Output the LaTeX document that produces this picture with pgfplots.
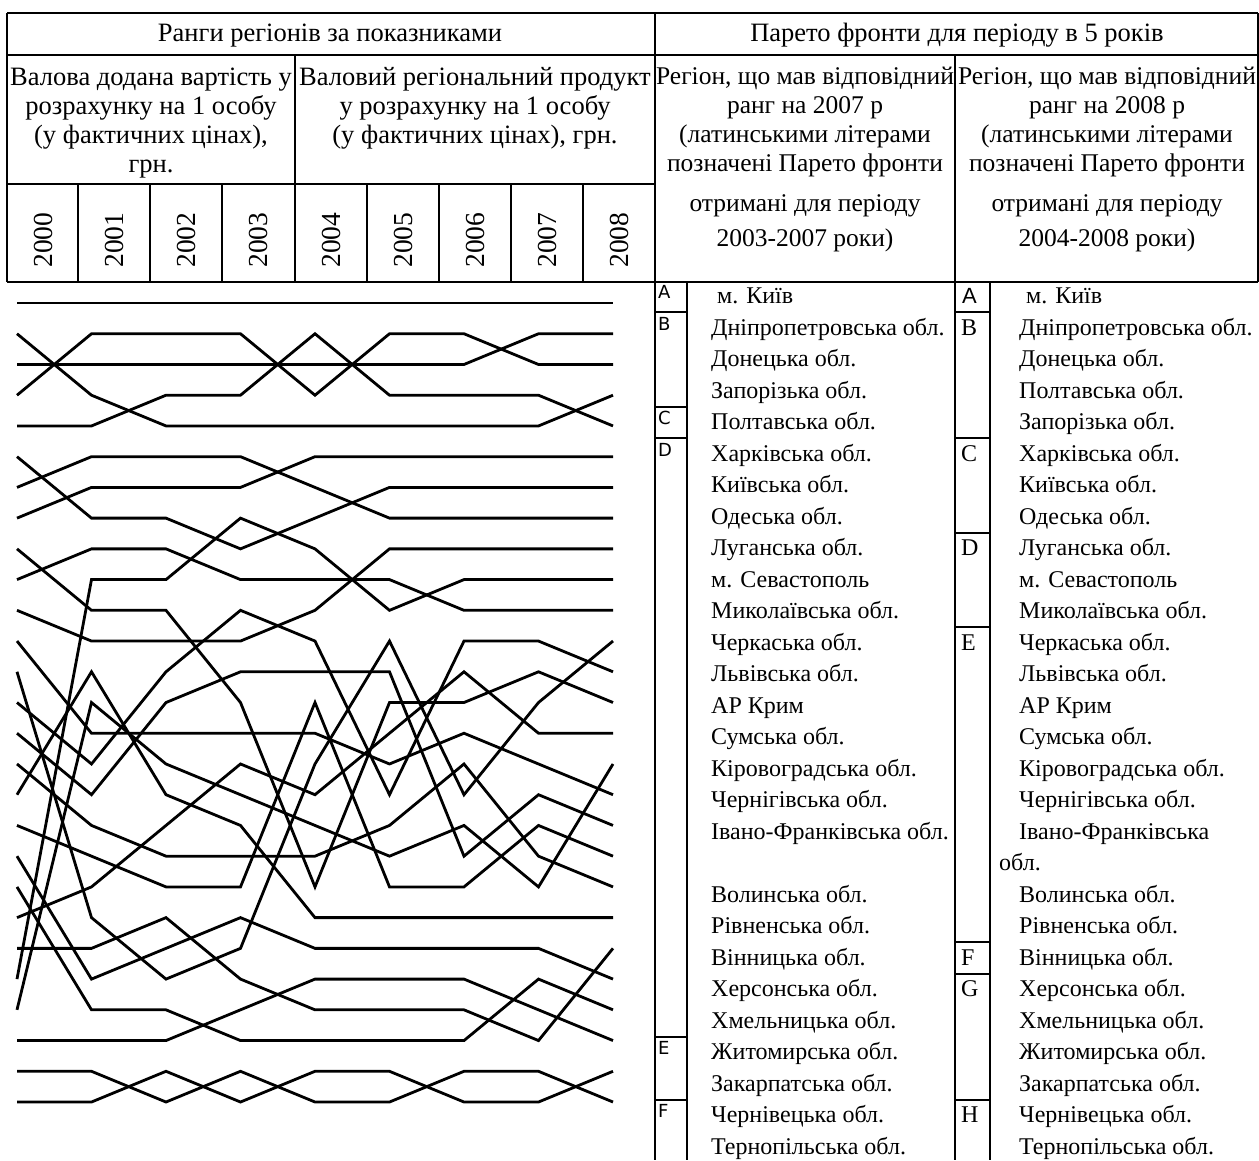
\documentclass[border=0pt]{standalone}
\usepackage{fontspec}
\setmainfont{Liberation Serif}
\newfontfamily\lsans{DejaVu Sans}
\newfontfamily\asans{Liberation Sans}
\usepackage{pgfplots}
\pgfplotsset{compat=1.18}
\begin{document}
\fontsize{24}{28}\selectfont
\begin{tikzpicture}
\useasboundingbox (0pt,0pt) rectangle (1259pt,-1160pt);
\begin{scope}[x=1pt,y=1pt,every node/.style={inner sep=0pt}]
% table rules
\begin{scope}[line width=2pt]
\draw (7,-13) -- (1258,-13);
\draw (7,-55) -- (1258,-55);
\draw (7,-184) -- (655,-184);
\draw (7,-282) -- (1258,-282);
\draw (7,-13) -- (7,-282);
\draw (1258,-13) -- (1258,-282);
\draw (295,-55) -- (295,-282);
\foreach \xx in {78,150,222,367,439,511,583} \draw (\xx,-184) -- (\xx,-282);
\draw (655,-13) -- (655,-1160);
\draw (955,-55) -- (955,-1160);
\draw (687,-282) -- (687,-1160);
\draw (990,-282) -- (990,-1160);
\foreach \yy in {312,406.5,438,1036.5,1099.5} \draw (655,-\yy) -- (687,-\yy);
\foreach \yy in {312,438,532.5,627,942,973.5,1099.5} \draw (955,-\yy) -- (990,-\yy);
\end{scope}
% header texts
\begin{scope}[every node/.append style={font=\fontsize{26.5}{30}\selectfont}]
\node[anchor=base] at (330,-41) {Ранги регіонів за показниками};
\node[anchor=base] at (957,-41) {Парето фронти для періоду в 5 років};
\node[anchor=base] at (151,-85) {Валова додана вартість у};
\node[anchor=base] at (151,-114) {розрахунку на 1 особу};
\node[anchor=base] at (151,-143) {(у фактичних цінах),};
\node[anchor=base] at (151,-172) {грн.};
\node[anchor=base] at (475,-85) {Валовий регіональний продукт};
\node[anchor=base] at (475,-114) {у розрахунку на 1 особу};
\node[anchor=base] at (475,-143) {(у фактичних цінах), грн.};
\end{scope}
\begin{scope}[every node/.append style={font=\fontsize{25.5}{30}\selectfont}]
\node[anchor=base] at (805,-84) {Регіон, що мав відповідний};
\node[anchor=base] at (805,-113) {ранг на 2007 р};
\node[anchor=base] at (805,-142) {(латинськими літерами};
\node[anchor=base] at (805,-171) {позначені Парето фронти};
\node[anchor=base] at (805,-211) {отримані для періоду};
\node[anchor=base] at (805,-246) {2003-2007 роки)};
\node[anchor=base] at (1107,-84) {Регіон, що мав відповідний};
\node[anchor=base] at (1107,-113) {ранг на 2008 р};
\node[anchor=base] at (1107,-142) {(латинськими літерами};
\node[anchor=base] at (1107,-171) {позначені Парето фронти};
\node[anchor=base] at (1107,-211) {отримані для періоду};
\node[anchor=base] at (1107,-246) {2004-2008 роки)};
\end{scope}
\foreach \yr/\xc in {2000/43,2001/114,2002/186,2003/258,2004/331,2005/403,2006/475,2007/547,2008/619}
  \node[rotate=90,font=\fontsize{27.5}{30}\selectfont] at (\xc,-240) {\yr};
% region lists
\foreach \nm [count=\i from 0] in {Дніпропетровська обл.,Донецька обл.,Запорізька обл.,Полтавська обл.,Харківська обл.,Київська обл.,Одеська обл.,Луганська обл.,м. Севастополь,Миколаївська обл.,Черкаська обл.,Львівська обл.,АР Крим,Сумська обл.,Кіровоградська обл.,Чернігівська обл.,Івано-Франківська обл.}
  \node[anchor=base west] at (711,{-(335+31.5*\i)}) {\nm};
\foreach \nm [count=\i from 0] in {Волинська обл.,Рівненська обл.,Вінницька обл.,Херсонська обл.,Хмельницька обл.,Житомирська обл.,Закарпатська обл.,Чернівецька обл.,Тернопільська обл.}
  \node[anchor=base west] at (711,{-(902+31.5*\i)}) {\nm};
\node[anchor=base west] at (717,-303.5) {м. Київ};
\foreach \nm [count=\i from 0] in {Дніпропетровська обл.,Донецька обл.,Полтавська обл.,Запорізька обл.,Харківська обл.,Київська обл.,Одеська обл.,Луганська обл.,м. Севастополь,Миколаївська обл.,Черкаська обл.,Львівська обл.,АР Крим,Сумська обл.,Кіровоградська обл.,Чернігівська обл.,Івано-Франківська}
  \node[anchor=base west] at (1019,{-(335+31.5*\i)}) {\nm};
\node[anchor=base west] at (999,-870.5) {обл.};
\foreach \nm [count=\i from 0] in {Волинська обл.,Рівненська обл.,Вінницька обл.,Херсонська обл.,Хмельницька обл.,Житомирська обл.,Закарпатська обл.,Чернівецька обл.,Тернопільська обл.}
  \node[anchor=base west] at (1019,{-(902+31.5*\i)}) {\nm};
\node[anchor=base west] at (1026,-303.5) {м. Київ};
% Pareto front letters
\foreach \lt/\r in {A/0,B/1,C/4,D/5,E/24,F/26}
  \node[anchor=base west,font=\lsans\fontsize{18}{20}\selectfont] at (658,{-(298.5+31.5*\r)}) {\lt};
\node[anchor=base west,font=\asans\fontsize{22}{24}\selectfont] at (962,-303.5) {A};
\foreach \lt/\r in {B/1,C/5,D/8,E/11,F/21,G/22,H/26}
  \node[anchor=base west] at (961,{-(303.5+31.5*\r)}) {\lt};
\end{scope}
% rank lines
\begin{axis}[at={(17pt,-1102pt)}, anchor=south west, width=596pt, height=799pt,
  scale only axis, xmin=2000, xmax=2008, ymin=1, ymax=27, y dir=reverse,
  hide axis, clip=false, rk/.style={black,solid,line width=2.8pt,mark=none}]
\addplot[rk] coordinates {(2000,1) (2001,1) (2002,1) (2003,1) (2004,1) (2005,1) (2006,1) (2007,1) (2008,1)};
\addplot[rk] coordinates {(2000,2) (2001,4) (2002,5) (2003,5) (2004,5) (2005,5) (2006,5) (2007,5) (2008,4)};
\addplot[rk] coordinates {(2000,3) (2001,3) (2002,3) (2003,3) (2004,3) (2005,3) (2006,3) (2007,2) (2008,2)};
\addplot[rk] coordinates {(2000,4) (2001,2) (2002,2) (2003,2) (2004,4) (2005,2) (2006,2) (2007,3) (2008,3)};
\addplot[rk] coordinates {(2000,5) (2001,5) (2002,4) (2003,4) (2004,2) (2005,4) (2006,4) (2007,4) (2008,5)};
\addplot[rk] coordinates {(2000,6) (2001,8) (2002,8) (2003,9) (2004,8) (2005,7) (2006,7) (2007,7) (2008,7)};
\addplot[rk] coordinates {(2000,7) (2001,6) (2002,6) (2003,6) (2004,7) (2005,8) (2006,8) (2007,8) (2008,8)};
\addplot[rk] coordinates {(2000,8) (2001,7) (2002,7) (2003,7) (2004,6) (2005,6) (2006,6) (2007,6) (2008,6)};
\addplot[rk] coordinates {(2000,9) (2001,11) (2002,11) (2003,14) (2004,20) (2005,14) (2006,14) (2007,13) (2008,14)};
\addplot[rk] coordinates {(2000,10) (2001,9) (2002,9) (2003,10) (2004,10) (2005,10) (2006,11) (2007,11) (2008,11)};
\addplot[rk] coordinates {(2000,11) (2001,12) (2002,12) (2003,12) (2004,11) (2005,9) (2006,9) (2007,9) (2008,9)};
\addplot[rk] coordinates {(2000,12) (2001,15) (2002,15) (2003,15) (2004,15) (2005,16) (2006,15) (2007,16) (2008,17)};
\addplot[rk] coordinates {(2000,13) (2001,21) (2002,23) (2003,22) (2004,16) (2005,12) (2006,17) (2007,14) (2008,12)};
\addplot[rk] coordinates {(2000,14) (2001,16) (2002,13) (2003,11) (2004,12) (2005,17) (2006,12) (2007,12) (2008,13)};
\addplot[rk] coordinates {(2000,15) (2001,17) (2002,14) (2003,13) (2004,13) (2005,13) (2006,19) (2007,17) (2008,18)};
\addplot[rk] coordinates {(2000,16) (2001,18) (2002,19) (2003,19) (2004,19) (2005,18) (2006,16) (2007,19) (2008,20)};
\addplot[rk] coordinates {(2000,17) (2001,13) (2002,17) (2003,18) (2004,21) (2005,21) (2006,21) (2007,21) (2008,21)};
\addplot[rk] coordinates {(2000,18) (2001,19) (2002,20) (2003,20) (2004,14) (2005,20) (2006,20) (2007,18) (2008,19)};
\addplot[rk] coordinates {(2000,19) (2001,23) (2002,22) (2003,21) (2004,22) (2005,22) (2006,22) (2007,22) (2008,23)};
\addplot[rk] coordinates {(2000,20) (2001,24) (2002,24) (2003,25) (2004,25) (2005,25) (2006,25) (2007,23) (2008,24)};
\addplot[rk] coordinates {(2000,21) (2001,20) (2002,18) (2003,16) (2004,17) (2005,15) (2006,13) (2007,15) (2008,15)};
\addplot[rk] coordinates {(2000,22) (2001,22) (2002,21) (2003,23) (2004,24) (2005,24) (2006,24) (2007,25) (2008,22)};
\addplot[rk] coordinates {(2000,23) (2001,10) (2002,10) (2003,8) (2004,9) (2005,11) (2006,10) (2007,10) (2008,10)};
\addplot[rk] coordinates {(2000,24) (2001,14) (2002,16) (2003,17) (2004,18) (2005,19) (2006,18) (2007,20) (2008,16)};
\addplot[rk] coordinates {(2000,25) (2001,25) (2002,25) (2003,24) (2004,23) (2005,23) (2006,23) (2007,24) (2008,25)};
\addplot[rk] coordinates {(2000,26) (2001,26) (2002,27) (2003,26) (2004,27) (2005,27) (2006,26) (2007,26) (2008,27)};
\addplot[rk] coordinates {(2000,27) (2001,27) (2002,26) (2003,27) (2004,26) (2005,26) (2006,27) (2007,27) (2008,26)};
\end{axis}
\end{tikzpicture}
\end{document}
